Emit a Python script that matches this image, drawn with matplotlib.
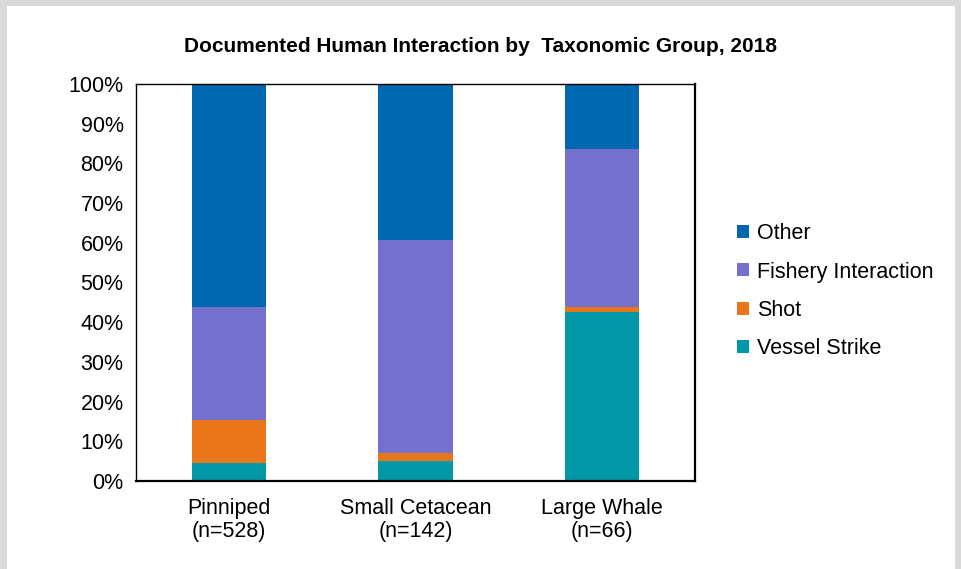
import numpy as np
import matplotlib.pyplot as plt
from matplotlib.lines import Line2D

# Datos (porcentaje por grupo)
groups = ['Pinniped\n(n=528)', 'Small Cetacean\n(n=142)', 'Large Whale\n(n=66)']
vessel_strike = [4.6, 5.1, 42.5]
shot = [10.8, 1.9, 1.4]
fishery = [28.5, 53.7, 39.7]
other = [56.1, 39.3, 16.4]

series = ['Vessel Strike', 'Shot', 'Fishery Interaction', 'Other']
values = [vessel_strike, shot, fishery, other]
colors = ['#0098A6', '#E9761B', '#7371CD', '#0068B1']

plt.rcParams['font.family'] = ['Liberation Sans', 'DejaVu Sans']

fig = plt.figure(figsize=(9.61, 5.69), dpi=100)
ax = fig.add_axes([136 / 961, 1 - 481 / 569, 559 / 961, 397 / 569])

x = np.arange(len(groups))
bottom = np.zeros(len(groups))
handles = {}
for name, vals, col in zip(series, values, colors):
    bars = ax.bar(x, vals, width=0.40, bottom=bottom, color=col, label=name, zorder=2)
    handles[name] = bars
    bottom += np.array(vals)

ax.set_xlim(-0.5, 2.5)
ax.set_ylim(0, 100)
ax.set_yticks(np.arange(0, 101, 10))
ax.set_yticklabels([f'{v}%' for v in range(0, 101, 10)], fontsize=15.5)
ax.set_xticks(x)
ax.set_xticklabels(groups, fontsize=15.5, linespacing=1.12)
ax.tick_params(axis='y', length=0, pad=9)
ax.tick_params(axis='x', length=0, pad=12)

for side in ['left', 'top']:
    ax.spines[side].set_linewidth(1.0)
for side in ['right', 'bottom']:
    ax.spines[side].set_linewidth(1.6)

fig.text(0.5, 1 - 46 / 569, 'Documented Human Interaction by  Taxonomic Group, 2018',
         ha='center', va='center', fontsize=15, fontweight='bold',
         family=['Liberation Sans Narrow', 'Liberation Sans', 'DejaVu Sans'])

order = ['Other', 'Fishery Interaction', 'Shot', 'Vessel Strike']
leg = fig.legend([handles[n] for n in order], order, loc='upper left',
                 bbox_to_anchor=(718 / 961, 1 - 204 / 569), frameon=False,
                 fontsize=15.5, handlelength=0.55, handleheight=0.55,
                 handletextpad=0.35, labelspacing=0.80)

# marco gris exterior (arriba, izquierda, derecha)
frame_kw = dict(color='#D9D9D9', linewidth=5, transform=fig.transFigure)
fig.lines.append(Line2D([0.003, 0.003], [0, 0.996], **frame_kw))
fig.lines.append(Line2D([0.003, 0.997], [0.996, 0.996], **frame_kw))
fig.lines.append(Line2D([0.997, 0.997], [0, 0.996], **frame_kw))

fig.savefig('out.png', dpi=100)
